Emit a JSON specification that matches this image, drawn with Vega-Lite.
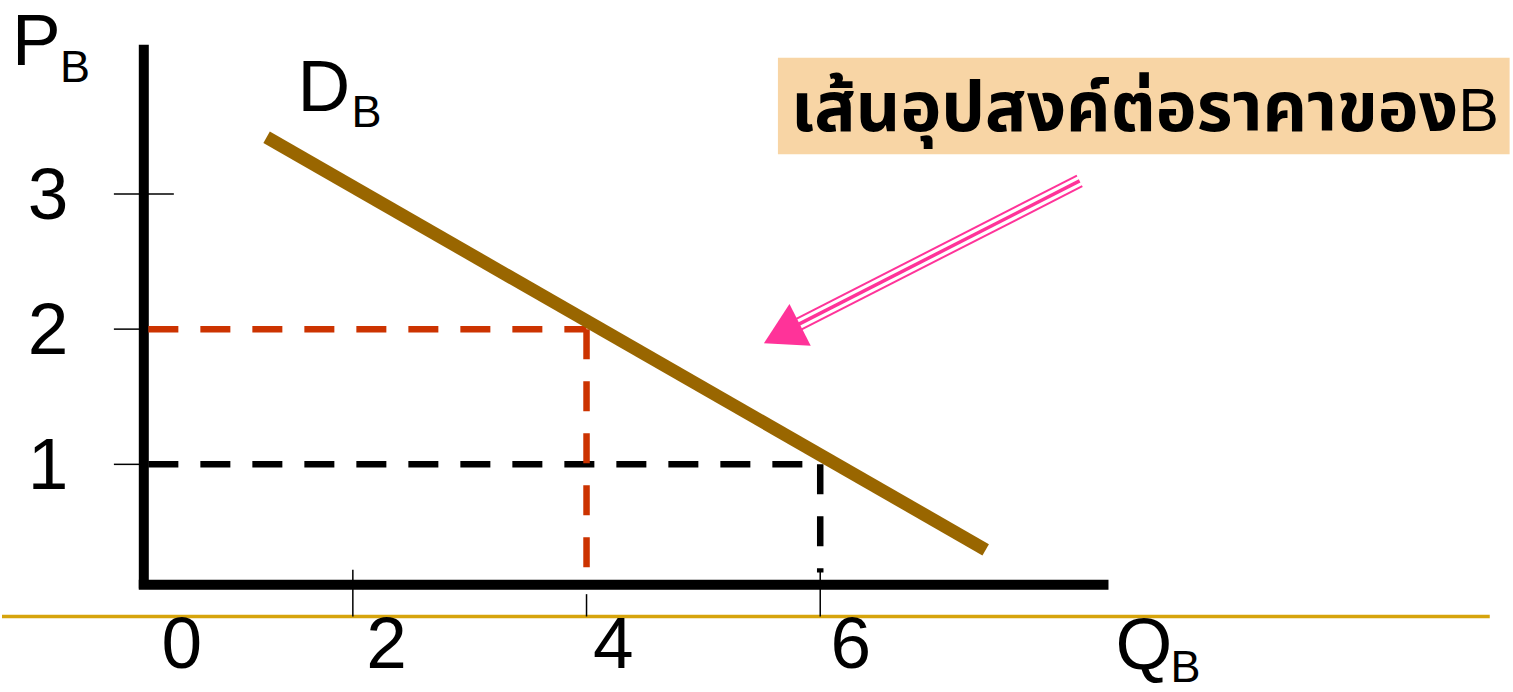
{
  "$schema": "https://vega.github.io/schema/vega-lite/v6.json",
  "autosize": {"type": "fit", "contains": "padding"},
  "width": 1513,
  "height": 692,
  "padding": 0,
  "background": "white",
  "config": {"view": {"stroke": null}},
  "datasets": {
    "segs": [
      {"seg": "yaxis", "q": 0.211, "p": 4.103, "q2": 0.211, "p2": 0.081},
      {"seg": "xaxis", "q": 0.168, "p": 0.110, "q2": 8.467, "p2": 0.110},
      {"seg": "gold", "q": -1.0026, "p": -0.125, "q2": 11.73, "p2": -0.125},
      {"seg": "tick", "q": -0.045, "p": 3, "q2": 0.468, "p2": 3},
      {"seg": "tick", "q": -0.045, "p": 2, "q2": 0.211, "p2": 2},
      {"seg": "tick", "q": -0.045, "p": 1, "q2": 0.211, "p2": 1},
      {"seg": "tick", "q": 2, "p": 0.22, "q2": 2, "p2": -0.125},
      {"seg": "tick", "q": 4, "p": 0.04, "q2": 4, "p2": -0.125},
      {"seg": "tick", "q": 6, "p": 0.22, "q2": 6, "p2": -0.125},
      {"seg": "blackdash", "q": 0.25, "p": 1, "q2": 6, "p2": 1},
      {"seg": "blackdash", "q": 6, "p": 1, "q2": 6, "p2": 0.2},
      {"seg": "reddash", "q": 0.25, "p": 2, "q2": 4, "p2": 2},
      {"seg": "reddash", "q": 4, "p": 2, "q2": 4, "p2": 0.11},
      {"seg": "demand", "q": 1.262, "p": 3.419, "q2": 7.416, "p2": 0.368},
      {"seg": "arrowouter", "q": 8.197, "p": 3.135, "q2": 5.795, "p2": 2.076},
      {"seg": "arrowmid", "q": 8.220, "p": 3.096, "q2": 5.818, "p2": 2.037},
      {"seg": "arrowouter", "q": 8.243, "p": 3.057, "q2": 5.841, "p2": 1.998}
    ],
    "labels": [
      {"kind": "tick", "text": "3", "q": -0.609, "p": 2.98},
      {"kind": "tick", "text": "2", "q": -0.609, "p": 1.98},
      {"kind": "tick", "text": "1", "q": -0.609, "p": 0.98},
      {"kind": "tick", "text": "0", "q": 0.536, "p": -0.346},
      {"kind": "tick", "text": "2", "q": 2.288, "p": -0.346},
      {"kind": "tick", "text": "4", "q": 4.229, "p": -0.346},
      {"kind": "tick", "text": "6", "q": 6.262, "p": -0.346},
      {"kind": "big", "text": "P", "q": -0.917, "p": 3.956},
      {"kind": "sub", "text": "B", "q": -0.507, "p": 3.824},
      {"kind": "big", "text": "D", "q": 1.527, "p": 3.610},
      {"kind": "sub", "text": "B", "q": 1.988, "p": 3.493},
      {"kind": "big", "text": "Q", "q": 8.527, "p": -0.515},
      {"kind": "sub", "text": "B", "q": 8.997, "p": -0.610}
    ]
  },
  "layer": [
    {
      "data": {"values": [{"q": 5.638, "p": 4.007, "q2": 11.90, "p2": 3.294}]},
      "mark": {"type": "rect", "color": "#F8D5A5"},
      "encoding": {
        "x": {"field": "q", "type": "quantitative", "scale": {"domain": [-1.0026, 11.929], "nice": false, "zero": false}, "axis": null},
        "x2": {"field": "q2"},
        "y": {"field": "p", "type": "quantitative", "scale": {"domain": [-0.654, 4.434], "nice": false, "zero": false}, "axis": null},
        "y2": {"field": "p2"}
      }
    },
    {
      "data": {"name": "segs"},
      "transform": [{"filter": "datum.seg === 'gold'"}],
      "mark": {"type": "rule", "color": "#D6A40C", "strokeWidth": 3.5},
      "encoding": {
        "x": {"field": "q", "type": "quantitative", "scale": {"domain": [-1.0026, 11.929], "nice": false, "zero": false}, "axis": null},
        "x2": {"field": "q2"},
        "y": {"field": "p", "type": "quantitative", "scale": {"domain": [-0.654, 4.434], "nice": false, "zero": false}, "axis": null},
        "y2": {"field": "p2"}
      }
    },
    {
      "data": {"name": "segs"},
      "transform": [{"filter": "datum.seg === 'yaxis' || datum.seg === 'xaxis'"}],
      "mark": {"type": "rule", "color": "#000000", "strokeWidth": 10},
      "encoding": {
        "x": {"field": "q", "type": "quantitative", "scale": {"domain": [-1.0026, 11.929], "nice": false, "zero": false}, "axis": null},
        "x2": {"field": "q2"},
        "y": {"field": "p", "type": "quantitative", "scale": {"domain": [-0.654, 4.434], "nice": false, "zero": false}, "axis": null},
        "y2": {"field": "p2"}
      }
    },
    {
      "data": {"name": "segs"},
      "transform": [{"filter": "datum.seg === 'tick'"}],
      "mark": {"type": "rule", "color": "#000000", "strokeWidth": 1.5},
      "encoding": {
        "x": {"field": "q", "type": "quantitative", "scale": {"domain": [-1.0026, 11.929], "nice": false, "zero": false}, "axis": null},
        "x2": {"field": "q2"},
        "y": {"field": "p", "type": "quantitative", "scale": {"domain": [-0.654, 4.434], "nice": false, "zero": false}, "axis": null},
        "y2": {"field": "p2"}
      }
    },
    {
      "data": {"name": "segs"},
      "transform": [{"filter": "datum.seg === 'blackdash'"}],
      "mark": {"type": "rule", "color": "#000000", "strokeWidth": 6.5, "strokeDash": [30, 22]},
      "encoding": {
        "x": {"field": "q", "type": "quantitative", "scale": {"domain": [-1.0026, 11.929], "nice": false, "zero": false}, "axis": null},
        "x2": {"field": "q2"},
        "y": {"field": "p", "type": "quantitative", "scale": {"domain": [-0.654, 4.434], "nice": false, "zero": false}, "axis": null},
        "y2": {"field": "p2"}
      }
    },
    {
      "data": {"name": "segs"},
      "transform": [{"filter": "datum.seg === 'reddash'"}],
      "mark": {"type": "rule", "color": "#CC3300", "strokeWidth": 6.5, "strokeDash": [30, 22]},
      "encoding": {
        "x": {"field": "q", "type": "quantitative", "scale": {"domain": [-1.0026, 11.929], "nice": false, "zero": false}, "axis": null},
        "x2": {"field": "q2"},
        "y": {"field": "p", "type": "quantitative", "scale": {"domain": [-0.654, 4.434], "nice": false, "zero": false}, "axis": null},
        "y2": {"field": "p2"}
      }
    },
    {
      "data": {"name": "segs"},
      "transform": [{"filter": "datum.seg === 'demand'"}],
      "mark": {"type": "rule", "color": "#996600", "strokeWidth": 13},
      "encoding": {
        "x": {"field": "q", "type": "quantitative", "scale": {"domain": [-1.0026, 11.929], "nice": false, "zero": false}, "axis": null},
        "x2": {"field": "q2"},
        "y": {"field": "p", "type": "quantitative", "scale": {"domain": [-0.654, 4.434], "nice": false, "zero": false}, "axis": null},
        "y2": {"field": "p2"}
      }
    },
    {
      "data": {"name": "segs"},
      "transform": [{"filter": "datum.seg === 'arrowouter'"}],
      "mark": {"type": "rule", "color": "#FF3399", "strokeWidth": 2},
      "encoding": {
        "x": {"field": "q", "type": "quantitative", "scale": {"domain": [-1.0026, 11.929], "nice": false, "zero": false}, "axis": null},
        "x2": {"field": "q2"},
        "y": {"field": "p", "type": "quantitative", "scale": {"domain": [-0.654, 4.434], "nice": false, "zero": false}, "axis": null},
        "y2": {"field": "p2"}
      }
    },
    {
      "data": {"name": "segs"},
      "transform": [{"filter": "datum.seg === 'arrowmid'"}],
      "mark": {"type": "rule", "color": "#FF3399", "strokeWidth": 3.5},
      "encoding": {
        "x": {"field": "q", "type": "quantitative", "scale": {"domain": [-1.0026, 11.929], "nice": false, "zero": false}, "axis": null},
        "x2": {"field": "q2"},
        "y": {"field": "p", "type": "quantitative", "scale": {"domain": [-0.654, 4.434], "nice": false, "zero": false}, "axis": null},
        "y2": {"field": "p2"}
      }
    },
    {
      "data": {"values": [{"q": 5.673, "p": 1.963}]},
      "mark": {"type": "point", "shape": "triangle-up", "filled": true, "color": "#FF3399", "opacity": 1, "size": 2200, "angle": 243},
      "encoding": {
        "x": {"field": "q", "type": "quantitative", "scale": {"domain": [-1.0026, 11.929], "nice": false, "zero": false}, "axis": null},
        "y": {"field": "p", "type": "quantitative", "scale": {"domain": [-0.654, 4.434], "nice": false, "zero": false}, "axis": null}
      }
    },
    {
      "data": {"name": "labels"},
      "transform": [{"filter": "datum.kind === 'tick'"}],
      "mark": {"type": "text", "font": "Liberation Sans", "fontSize": 73, "align": "center", "baseline": "middle", "color": "#000000"},
      "encoding": {
        "x": {"field": "q", "type": "quantitative", "scale": {"domain": [-1.0026, 11.929], "nice": false, "zero": false}, "axis": null},
        "y": {"field": "p", "type": "quantitative", "scale": {"domain": [-0.654, 4.434], "nice": false, "zero": false}, "axis": null},
        "text": {"field": "text"}
      }
    },
    {
      "data": {"name": "labels"},
      "transform": [{"filter": "datum.kind === 'big'"}],
      "mark": {"type": "text", "font": "Liberation Sans", "fontSize": 73, "align": "left", "baseline": "alphabetic", "color": "#000000"},
      "encoding": {
        "x": {"field": "q", "type": "quantitative", "scale": {"domain": [-1.0026, 11.929], "nice": false, "zero": false}, "axis": null},
        "y": {"field": "p", "type": "quantitative", "scale": {"domain": [-0.654, 4.434], "nice": false, "zero": false}, "axis": null},
        "text": {"field": "text"}
      }
    },
    {
      "data": {"name": "labels"},
      "transform": [{"filter": "datum.kind === 'sub'"}],
      "mark": {"type": "text", "font": "Liberation Sans", "fontSize": 45, "align": "left", "baseline": "alphabetic", "color": "#000000"},
      "encoding": {
        "x": {"field": "q", "type": "quantitative", "scale": {"domain": [-1.0026, 11.929], "nice": false, "zero": false}, "axis": null},
        "y": {"field": "p", "type": "quantitative", "scale": {"domain": [-0.654, 4.434], "nice": false, "zero": false}, "axis": null},
        "text": {"field": "text"}
      }
    },
    {
      "data": {"values": [{"text": "เส้นอุปสงค์ต่อราคาของ", "q": 11.46, "p": 3.463}]},
      "mark": {"type": "text", "font": "Noto Sans Thai", "fontSize": 69, "fontWeight": "bold", "align": "right", "baseline": "alphabetic", "color": "#000000"},
      "encoding": {
        "x": {"field": "q", "type": "quantitative", "scale": {"domain": [-1.0026, 11.929], "nice": false, "zero": false}, "axis": null},
        "y": {"field": "p", "type": "quantitative", "scale": {"domain": [-0.654, 4.434], "nice": false, "zero": false}, "axis": null},
        "text": {"field": "text"}
      }
    },
    {
      "data": {"values": [{"text": "B", "q": 11.46, "p": 3.463}]},
      "mark": {"type": "text", "font": "Liberation Sans", "fontSize": 61, "align": "left", "baseline": "alphabetic", "color": "#000000"},
      "encoding": {
        "x": {"field": "q", "type": "quantitative", "scale": {"domain": [-1.0026, 11.929], "nice": false, "zero": false}, "axis": null},
        "y": {"field": "p", "type": "quantitative", "scale": {"domain": [-0.654, 4.434], "nice": false, "zero": false}, "axis": null},
        "text": {"field": "text"}
      }
    }
  ]
}
